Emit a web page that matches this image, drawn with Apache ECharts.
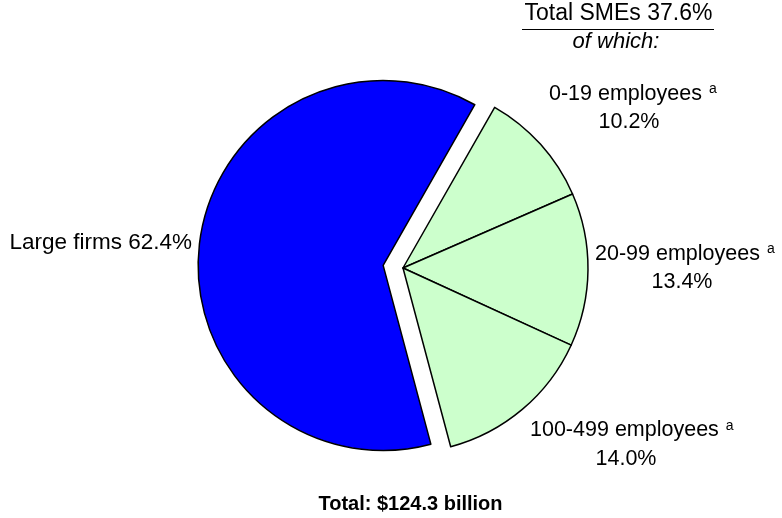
<!DOCTYPE html>
<html>
<head>
<meta charset="utf-8">
<script src="https://cdn.jsdelivr.net/npm/echarts@6/dist/echarts.min.js"></script>
<style>
  html, body { margin: 0; padding: 0; background: #fff; }
  #chartPie { width: 782px; height: 518px; }
</style>
</head>
<body>
<div id="chartPie"></div>
<script>
  // data
  var categories = ['0-19 employees', '20-99 employees', '100-499 employees', 'Large firms'];
  var shares = [10.2, 13.4, 14.0, 62.4];
  var smeFlags = [true, true, true, false];
  var footnote = 'a';
  var totalBillion = 124.3;

  var smeTotal = 0;
  shares.forEach(function (v, i) { if (smeFlags[i]) smeTotal += v; });

  var font = 'Liberation Sans, Arial, sans-serif';

  // label anchors: name line (left x, y) and value line (centre x, y)
  var labelPos = [
    { nx: 549, ny: 94, vx: 629, vy: 122.5 },
    { nx: 595, ny: 254, vx: 682, vy: 282.5 },
    { nx: 530, ny: 430.5, vx: 626, vy: 459 },
    { rx: 192, y: 242.5 }
  ];

  var graphics = [
    {
      type: 'text',
      style: {
        text: 'Total SMEs ' + smeTotal.toFixed(1) + '%',
        x: 618.5, y: 14, align: 'center', verticalAlign: 'middle',
        font: '23px ' + font, fill: '#000'
      }
    },
    {
      type: 'line',
      shape: { x1: 522, y1: 29.5, x2: 714, y2: 29.5 },
      style: { stroke: '#000', lineWidth: 1 }
    },
    {
      type: 'text',
      style: {
        text: 'of which:',
        x: 616, y: 41.5, align: 'center', verticalAlign: 'middle',
        font: 'italic 22px ' + font, fill: '#000'
      }
    },
    {
      type: 'text',
      style: {
        text: 'Total: $' + totalBillion.toFixed(1) + ' billion',
        x: 410.5, y: 504.5, align: 'center', verticalAlign: 'middle',
        font: 'bold 20px ' + font, fill: '#000'
      }
    }
  ];

  categories.forEach(function (name, i) {
    var p = labelPos[i];
    var val = shares[i].toFixed(1) + '%';
    if (!smeFlags[i]) {
      graphics.push({
        type: 'text',
        style: {
          text: name + ' ' + val, x: p.rx, y: p.y,
          align: 'right', verticalAlign: 'middle',
          font: '22.5px ' + font, fill: '#000'
        }
      });
      return;
    }
    graphics.push({
      type: 'text',
      style: {
        text: '{n|' + name + '}{s|' + footnote + '}',
        x: p.nx, y: p.ny, align: 'left', verticalAlign: 'middle',
        fill: '#000',
        rich: {
          n: { fontSize: 21.5, fontFamily: font, color: '#000' },
          s: { fontSize: 14, fontFamily: font, color: '#000', verticalAlign: 'top', padding: [0, 0, 9, 7] }
        }
      }
    });
    graphics.push({
      type: 'text',
      style: {
        text: val, x: p.vx, y: p.vy,
        align: 'center', verticalAlign: 'middle',
        font: '21.5px ' + font, fill: '#000'
      }
    });
  });

  var chart = echarts.init(document.getElementById('chartPie'));
  chart.setOption({
    animation: false,
    backgroundColor: '#fff',
    graphic: graphics,
    series: [{
      type: 'pie',
      center: [403, 268],
      radius: 185,
      startAngle: 60.3,
      clockwise: true,
      selectedMode: 'single',
      selectedOffset: 20,
      emphasis: { disabled: true },
      itemStyle: { borderColor: '#000', borderWidth: 1.5 },
      label: { show: false },
      labelLine: { show: false },
      data: categories.map(function (name, i) {
        return {
          name: name,
          value: shares[i],
          selected: !smeFlags[i],
          itemStyle: { color: smeFlags[i] ? '#CCFFCC' : '#0000FF' }
        };
      })
    }]
  });
</script>
</body>
</html>
